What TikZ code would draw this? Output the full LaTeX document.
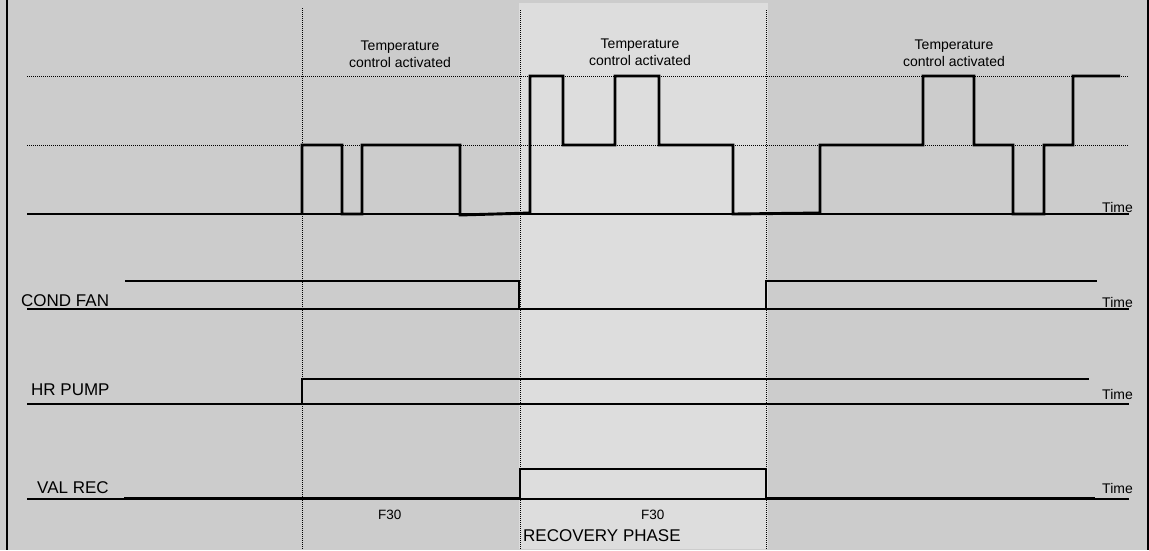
\documentclass[tikz,border=0pt]{standalone}
\usepackage{fontspec}
\setmainfont{Liberation Sans}
\definecolor{bggray}{HTML}{CCCCCC}
\definecolor{phasegray}{HTML}{DDDDDD}

\begin{document}
\begin{tikzpicture}[x=1pt, y=-1pt, line join=miter,
    sig/.style={line width=2.9pt},
    tline/.style={line width=1.3pt},
    guide/.style={line width=1pt, dash pattern=on 1pt off 1pt},
    note/.style={font=\fontsize{14}{16.5}\selectfont, align=center, inner sep=0pt, anchor=north},
    tname/.style={font=\fontsize{17}{18}\selectfont, inner sep=0pt, anchor=base west},
    tlbl/.style={font=\fontsize{14}{16}\selectfont, inner sep=0pt, anchor=base east},
    fcode/.style={font=\fontsize{13.5}{16}\selectfont, inner sep=0pt, anchor=base west}]
  \useasboundingbox (0,0) rectangle (1149,550);
  % fond et phase de recuperation
  \fill[bggray] (0,0) rectangle (1149,550);
  \fill[phasegray] (519,3) rectangle (768,549);
  \draw[line width=2.2pt] (7,0) -- (7,550);
  \draw[line width=2.2pt] (1148,0) -- (1148,550);
  % reperes pointilles
  \draw[guide] (302,8) -- (302,550);
  \draw[guide] (520,10) -- (520,550);
  \draw[guide] (766,10) -- (766,550);
  \draw[guide] (27,76) -- (1128,76);
  \draw[guide] (27,145) -- (1128,145);
  % axes de temps
  \draw[tline] (27,214) -- (1129,214);
  \draw[tline] (27,309) -- (1129,309);
  \draw[tline] (27,404) -- (1129,404);
  \draw[tline] (27,499) -- (1129,499);
  \node[tlbl] (time1) at (1133,212) {Time};
  \node[tlbl] (time2) at (1133,307) {Time};
  \node[tlbl] (time3) at (1133,399) {Time};
  \node[tlbl] (time4) at (1133,493) {Time};
  % regulation de temperature
  \node[note] (temp1) at (400,41) {Temperature\\control activated};
  \node[note] (temp2) at (640,39) {Temperature\\control activated};
  \node[note] (temp3) at (954,40) {Temperature\\control activated};
  \draw[sig] (302,214) -- (302,145) -- (342,145) -- (342,214) -- (362,214)
    -- (362,145) -- (460,145) -- (460,215) -- (530,213) -- (530,76)
    -- (563,76) -- (563,145) -- (615,145) -- (615,76) -- (659,76)
    -- (659,145) -- (733,145) -- (733,214) -- (820,213) -- (820,145)
    -- (923,145) -- (923,76) -- (974,76) -- (974,145) -- (1013,145)
    -- (1013,214) -- (1044,214) -- (1044,145) -- (1073,145) -- (1073,76)
    -- (1120,76);
  % ventilateur condenseur
  \node[tname] (cond) at (21,306) {COND FAN};
  \draw[sig] (125,281) -- (519,281) -- (519,309) -- (766,309) -- (766,281)
    -- (1097,281);
  % pompe HR
  \node[tname] (pump) at (31,395) {HR PUMP};
  \draw[sig] (125,404) -- (302,404) -- (302,379) -- (1089,379);
  % vanne de recuperation
  \node[tname] (valve) at (37,493) {VAL REC};
  \draw[sig] (124,498) -- (520,498) -- (520,469) -- (766,469) -- (766,498)
    -- (1095,498);
  % phases
  \node[fcode] (f1) at (378,519) {F30};
  \node[fcode] (f2) at (641,519) {F30};
  \node[tname] (rec) at (523,541) {RECOVERY PHASE};
\end{tikzpicture}
\end{document}
